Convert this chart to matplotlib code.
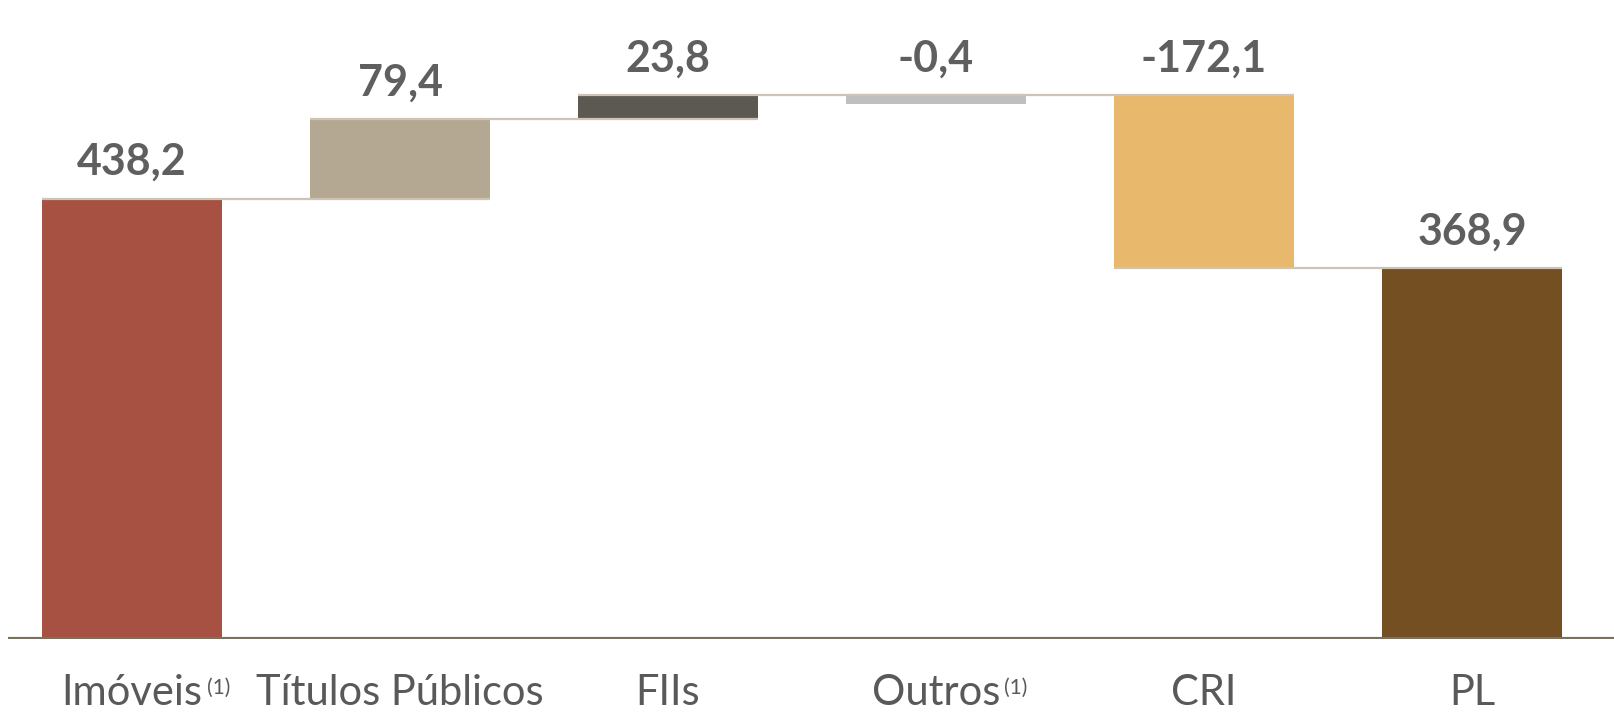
import matplotlib.pyplot as plt

# data
categories = ['Imóveis', 'Títulos Públicos', 'FIIs', 'Outros', 'CRI', 'PL']
footnotes = ['(1)', '', '', '(1)', '', '']
values = [438.2, 79.4, 23.8, -0.4, -172.1, 368.9]
is_total = [True, False, False, False, False, True]
colors = ['#a65142', '#b5a893', '#5c5953', '#bfbfbf', '#e8b86d', '#734f22']

plt.rcParams['font.family'] = ['Lato', 'DejaVu Sans']

fig = plt.figure(figsize=(16.15, 7.18), dpi=100)
ax = fig.add_axes([0.005, 0.110, 0.995, 0.890])

width = 0.67
min_h = 9  # keep tiny bars visible

bottoms, heights, levels = [], [], []
run = 0.0
for v, tot in zip(values, is_total):
    if tot:
        b, h = 0.0, v
        run = v
    else:
        start = run
        run = run + v
        b, h = min(start, run), abs(v)
        if h < min_h:
            b, h = max(start, run) - min_h, min_h
    bottoms.append(b)
    heights.append(h)
    levels.append(run)

x = list(range(len(values)))
ax.bar(x, heights, bottom=bottoms, width=width, color=colors, zorder=2)

# connector lines
for i in range(len(values) - 1):
    ax.hlines(levels[i], x[i] - width / 2, x[i + 1] + width / 2,
              color='#cdc4b5', lw=1.6, zorder=3)

# value labels
for i, v in enumerate(values):
    top = bottoms[i] + heights[i]
    if not is_total[i] and v < 0:
        top = levels[i] - v
    txt = f"{v:.1f}".replace('.', ',')
    ax.annotate(txt, (x[i], top), xytext=(0, 12), textcoords='offset points',
                ha='center', va='bottom', fontsize=31, fontweight='bold',
                color='#5f5f5f')

ax.axhline(0, color='#7a7260', lw=3, zorder=4)

ax.set_xlim(-0.463, 5.534)
ax.set_ylim(0, 636)
ax.set_yticks([])
ax.set_xticks(x)
ax.set_xticklabels(categories, fontsize=30, color='#595959')
ax.tick_params(axis='x', length=0, pad=25)
for s in ax.spines.values():
    s.set_visible(False)

# superscript footnote markers
fig.canvas.draw()
r = fig.canvas.get_renderer()
for lab, fn in zip(ax.get_xticklabels(), footnotes):
    if not fn:
        continue
    bb = lab.get_window_extent(r)
    fig.text((bb.x1 + 4) / fig.bbox.width, (bb.y1 - 4) / fig.bbox.height, fn,
             fontsize=15, color='#595959', ha='left', va='top')

fig.savefig('out.png', dpi=100)
